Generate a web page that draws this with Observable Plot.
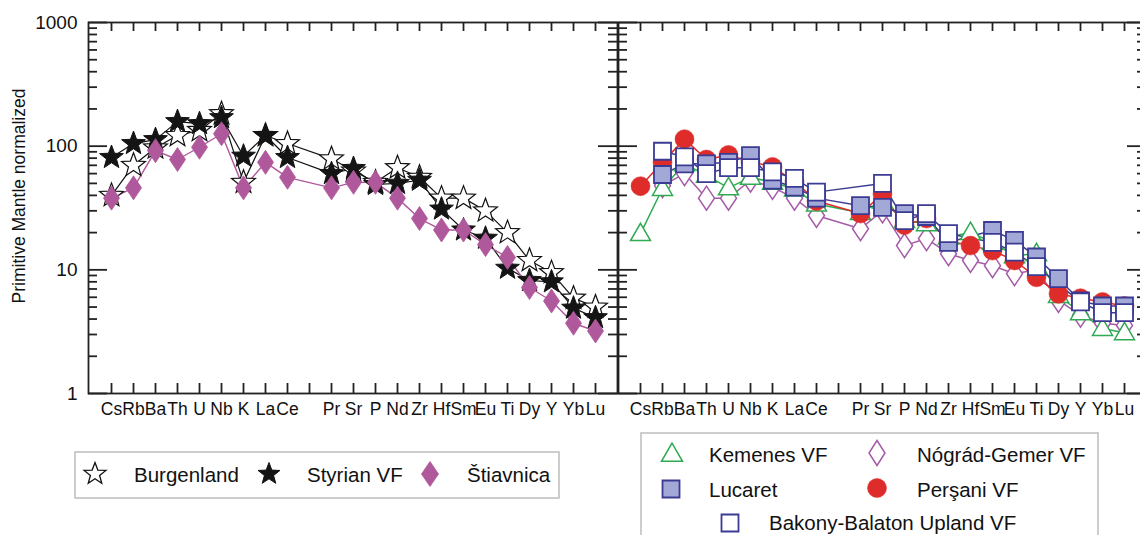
<!DOCTYPE html>
<html>
<head>
<meta charset="utf-8">
<script src="https://cdn.jsdelivr.net/npm/d3@7"></script>
<script src="https://cdn.jsdelivr.net/npm/@observablehq/plot@0.6"></script>
<style>
  html, body { margin: 0; padding: 0; background: white; overflow: hidden; }
  #page { position: relative; width: 1140px; height: 535px; overflow: hidden; font-family: "Liberation Sans", Arial, sans-serif; }
  .abs { position: absolute; }
  .abs svg { max-width: none !important; display: block; }
</style>
</head>
<body>
<div id="page">
  <div id="left" class="abs" style="left:0;top:0;width:618px;height:433px"></div>
  <div id="right" class="abs" style="left:600px;top:0;width:560px;height:433px"></div>
  <div id="legL" class="abs" style="left:0;top:440px;width:620px;height:70px"></div>
  <div id="legR" class="abs" style="left:620px;top:425px;width:520px;height:110px"></div>
</div>
<script>
// ---------- data ----------
const elements = ["Cs","Rb","Ba","Th","U","Nb","K","La","Ce","Pb","Pr","Sr","P","Nd","Zr","Hf","Sm","Eu","Ti","Dy","Y","Yb","Lu"];
const hiddenLabels = ["Pb"];
const majorTicks = [1, 10, 100, 1000];
const minorTicks = [2,3,4,5,6,7,8,9,20,30,40,50,60,70,80,90,200,300,400,500,600,700,800,900];

// left panel
const burgenland = [40, 70, 97, 122, 134, 183, 51, 122, 105, null, 79, 63, 51, 67, 56, 38, 38, 30, 20, 11.9, 9.5, 5.9, 5.0];
const styrian    = [81, 105, 113, 158, 152, 170, 83, 122, 81, null, 60, 66, 49, 50, 53, 31, 21, 18, 10.3, 8.2, 8.0, 4.9, 4.1];
const stiavnica  = [38, 46, 92, 78, 98, 126, 46, 74, 56, null, 46, 51, 51, 38, 26, 21, 21, 16, 12.6, 7.2, 5.6, 3.7, 3.2];

// right panel
const kemenes = [19.6, 45.5, 72, 58, 46, 56, 51, 45, 34, null, 29, 36, 25, 23.6, 18.4, 20, 16.7, 13, 13.5, 6.2, 4.5, 3.35, 3.1];
const nograd  = [null, 48, 60, 38, 38, 53, 46.5, 38, 27.5, null, 21.5, 30, 15.7, 17.9, 13.5, 11.9, 10.8, 9.3, 10, 5.65, 4.3, 3.7, 3.55];
const persani = [47.5, 74, 114, 78, 85, 75, 68, 52, 36, null, 28.5, 41, 23, 26, 17, 15.7, 14.3, 11.9, 8.7, 6.4, 5.9, 5.5, 5.1];
const lucaret = [null, 59, 72, 72, 74, 84, 53, 46.6, 38, null, 33, 32, 28.5, 27, 16.7, null, 20.8, 17.3, 12.7, 8.5, 5.6, 5.1, 5.1];
const bakony  = [null, 91, 82, 60, 67, 67, 62, 55, 42.5, null, null, 50, 25, 28.5, 19.6, null, 16.7, 13.9, 10.6, null, 5.5, 4.5, 4.5];

const yTitle = "Primitive Mantle normalized";
const legendLeft  = ["Burgenland", "Styrian VF", "Štiavnica"];
const legendRight = ["Kemenes VF", "Nógrád-Gemer VF", "Lucaret", "Perşani VF", "Bakony-Balaton Upland VF"];

// ---------- styles ----------
const axisColor = "#222";
const purple = "#b0589c";
const green = "#2faa52";
const lilac = "#a55aa8";
const red = "#dd2c2a";
const navy = "#3b3b94";
const navyFill = "#a3a9d6";
const font = "'Liberation Sans', Arial, sans-serif";

// custom symbols
function starSymbol(R) {
  return {draw(ctx) {
    const r = R * 0.42;
    for (let i = 0; i < 10; i++) {
      const a = -Math.PI / 2 + i * Math.PI / 5;
      const rr = i % 2 ? r : R;
      const x = rr * Math.cos(a), y = rr * Math.sin(a);
      if (i) ctx.lineTo(x, y); else ctx.moveTo(x, y);
    }
    ctx.closePath();
  }};
}
function diamondSymbol(w, h) {
  return {draw(ctx) { ctx.moveTo(0, -h); ctx.lineTo(w, 0); ctx.lineTo(0, h); ctx.lineTo(-w, 0); ctx.closePath(); }};
}
function triangleSymbol(s) {
  const h = s * Math.sqrt(3) / 2;
  return {draw(ctx) { ctx.moveTo(0, -h * 0.6); ctx.lineTo(s / 2, h * 0.4); ctx.lineTo(-s / 2, h * 0.4); ctx.closePath(); }};
}
function squareSymbol(s) {
  return {draw(ctx) { ctx.rect(-s / 2, -s / 2, s, s); }};
}
function circleSymbol(r) {
  return {draw(ctx) { ctx.moveTo(r, 0); ctx.arc(0, 0, r, 0, 2 * Math.PI); }};
}

const symStar = starSymbol(12.5);
const symDiamond = diamondSymbol(8, 12);
const symTri = triangleSymbol(20);
const symSq = squareSymbol(17);
const symCirc = circleSymbol(9.5);

function rows(values) {
  return elements.map((el, i) => ({el, v: values[i]})).filter(d => d.v != null);
}

function frameMarks(plotW, plotH, showYLabels) {
  const tk = {stroke: axisColor, strokeWidth: 1.8};
  const m = [
    Plot.tickY(majorTicks, {y: d => d, insetRight: plotW - 19, ...tk}),
    Plot.tickY(minorTicks, {y: d => d, insetRight: plotW - 9, ...tk}),
    Plot.tickY(majorTicks, {y: d => d, insetLeft: plotW - 19, ...tk}),
    Plot.tickY(minorTicks, {y: d => d, insetLeft: plotW - 9, ...tk}),
    Plot.tickX(elements, {x: d => d, insetBottom: plotH - 9, ...tk}),
    Plot.tickX(elements, {x: d => d, insetTop: plotH - 10, ...tk}),
    Plot.frame({stroke: axisColor, strokeWidth: 1.8}),
    Plot.axisX({anchor: "bottom", tickSize: 0, tickPadding: 9, fontSize: 17.5,
      tickFormat: d => hiddenLabels.includes(d) ? "" : d, label: null})
  ];
  if (showYLabels) {
    m.push(Plot.axisY({anchor: "left", ticks: majorTicks, tickSize: 0, tickPadding: 11, fontSize: 19,
      tickFormat: d => String(d), label: null}));
    m.push(Plot.text([yTitle], {frameAnchor: "left", text: d => d, rotate: -90, textAnchor: "middle",
      dx: -69, dy: -12, fontSize: 17.5, fill: "#111"}));
  }
  return m;
}

// ---------- left plot ----------
const leftW = 618, leftH = 433;
const left = Plot.plot({
  width: leftW, height: leftH,
  marginLeft: 88, marginRight: 1, marginTop: 22, marginBottom: 40,
  style: {fontFamily: font, color: "#111", background: "transparent", overflow: "visible"},
  x: {type: "point", domain: elements, padding: 1},
  y: {type: "log", domain: [1, 1000]},
  marks: [
    ...frameMarks(leftW - 89, leftH - 62, true),
    Plot.line(rows(burgenland), {x: "el", y: "v", stroke: "#111", strokeWidth: 1.2}),
    Plot.line(rows(styrian), {x: "el", y: "v", stroke: "#111", strokeWidth: 1.2}),
    Plot.line(rows(stiavnica), {x: "el", y: "v", stroke: purple, strokeWidth: 1.4}),
    Plot.dot(rows(burgenland), {x: "el", y: "v", symbol: symStar, r: 6, fill: "white", stroke: "#111", strokeWidth: 1.2}),
    Plot.dot(rows(styrian), {x: "el", y: "v", symbol: symStar, r: 6, fill: "#141414", stroke: "#141414", strokeWidth: 1}),
    Plot.dot(rows(stiavnica), {x: "el", y: "v", symbol: symDiamond, r: 6, fill: purple, stroke: purple, strokeWidth: 0.8})
  ]
});
document.getElementById("left").appendChild(left);

// ---------- right plot ----------
const rightW = 560, rightH = 433;
const right = Plot.plot({
  width: rightW, height: rightH,
  marginLeft: 18, marginRight: 14, marginTop: 22, marginBottom: 40,
  style: {fontFamily: font, color: "#111", background: "transparent", overflow: "visible"},
  x: {type: "point", domain: elements, padding: 1},
  y: {type: "log", domain: [1, 1000], axis: null},
  marks: [
    ...frameMarks(rightW - 32, rightH - 62, false),
    Plot.line(rows(nograd), {x: "el", y: "v", stroke: lilac, strokeWidth: 1.5}),
    Plot.line(rows(kemenes), {x: "el", y: "v", stroke: green, strokeWidth: 1.5}),
    Plot.line(rows(persani), {x: "el", y: "v", stroke: red, strokeWidth: 1.5}),
    Plot.line(rows(lucaret), {x: "el", y: "v", stroke: navy, strokeWidth: 1.5}),
    Plot.line(rows(bakony), {x: "el", y: "v", stroke: navy, strokeWidth: 1.5}),
    Plot.dot(rows(nograd), {x: "el", y: "v", symbol: symDiamond, r: 6, fill: "white", stroke: lilac, strokeWidth: 1.5}),
    Plot.dot(rows(kemenes), {x: "el", y: "v", symbol: symTri, r: 6, fill: "white", stroke: green, strokeWidth: 1.5}),
    Plot.dot(rows(persani), {x: "el", y: "v", symbol: symCirc, r: 6, fill: red, stroke: red, strokeWidth: 0.5}),
    Plot.dot(rows(lucaret), {x: "el", y: "v", symbol: symSq, r: 6, fill: navyFill, stroke: navy, strokeWidth: 1.8}),
    Plot.dot(rows(bakony), {x: "el", y: "v", symbol: symSq, r: 6, fill: "white", stroke: navy, strokeWidth: 1.8})
  ]
});
document.getElementById("right").appendChild(right);

// ---------- legends ----------
function legendSvg(container, w, h) {
  return d3.select(container).append("svg").attr("width", w).attr("height", h)
    .style("font-family", font).style("font-size", "20.5px");
}
function addSym(svg, sym, x, y, fill, stroke, sw) {
  svg.append("path").attr("d", d3.symbol(sym)()).attr("transform", `translate(${x},${y})`)
    .attr("fill", fill).attr("stroke", stroke).attr("stroke-width", sw);
}
function addText(svg, t, x, y) {
  svg.append("text").attr("x", x).attr("y", y).attr("fill", "#111").text(t);
}

const L = legendSvg("#legL", 620, 70);
L.append("rect").attr("x", 75).attr("y", 12).attr("width", 484).attr("height", 46)
  .attr("fill", "white").attr("stroke", "#bdbdbd").attr("stroke-width", 1.5);
addSym(L, starSymbol(11.5), 95, 34, "white", "#111", 1.3);
addText(L, legendLeft[0], 134, 42);
addSym(L, starSymbol(11.5), 269, 34, "#141414", "#141414", 1);
addText(L, legendLeft[1], 307, 42);
addSym(L, diamondSymbol(8.5, 12.5), 430, 34, purple, purple, 0.8);
addText(L, legendLeft[2], 467, 42);

const R = legendSvg("#legR", 520, 110);
R.append("rect").attr("x", 21).attr("y", 8).attr("width", 457).attr("height", 130)
  .attr("fill", "white").attr("stroke", "#bdbdbd").attr("stroke-width", 1.5);
addSym(R, triangleSymbol(21), 52, 29, "white", green, 1.5);
addText(R, legendRight[0], 89, 37);
addSym(R, diamondSymbol(8, 12.5), 257, 28, "white", lilac, 1.5);
addText(R, legendRight[1], 297, 37);
addSym(R, squareSymbol(17), 51, 64, navyFill, navy, 1.8);
addText(R, legendRight[2], 89, 72);
addSym(R, circleSymbol(9.5), 257, 63, red, red, 0.5);
addText(R, legendRight[3], 297, 72);
addSym(R, squareSymbol(17), 110, 98, "white", navy, 1.8);
addText(R, legendRight[4], 149, 105);
</script>
</body>
</html>
